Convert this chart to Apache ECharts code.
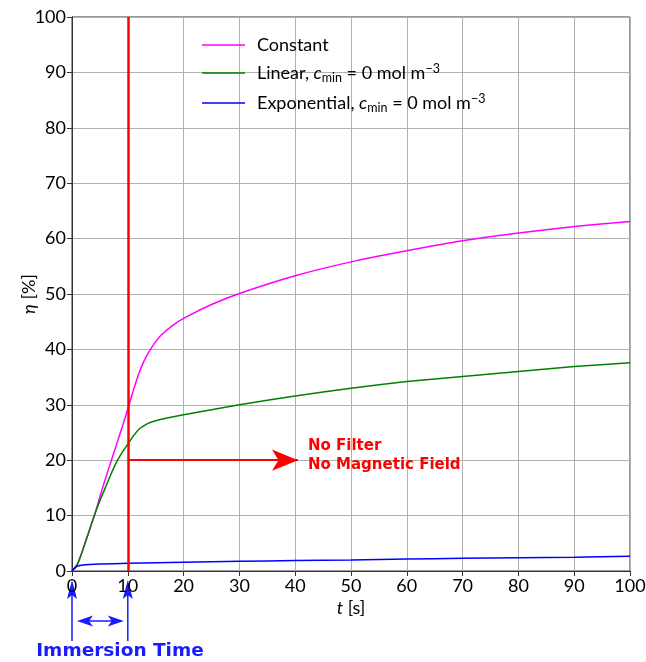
<!DOCTYPE html>
<html>
<head>
<meta charset="utf-8">
<script src="https://cdn.jsdelivr.net/npm/echarts@6/dist/echarts.min.js"></script>
<style>
  html, body { margin: 0; padding: 0; background: #fff; }
  #chart { width: 646px; height: 662px; }
</style>
</head>
<body>
<div id="chart"></div>
<script>
// time values and efficiencies
var tConst   = [0, 1, 2, 3, 4, 5, 6, 7, 8, 9, 10, 11, 12, 13, 14, 15, 16, 18, 20, 25, 30, 40, 50, 60, 70, 80, 90, 100];
var etaConst = [0, 1.3, 4, 7, 10, 13.4, 16.7, 19.8, 22.9, 26, 29.2, 32.6, 35.7, 38.1, 39.9, 41.4, 42.6, 44.3, 45.6, 48.1, 50.1, 53.3, 55.8, 57.8, 59.6, 61, 62.2, 63.1];

var tLin   = [0, 1, 2, 3, 4, 5, 6, 7, 8, 9, 10, 11, 12, 13, 14, 16, 20, 25, 30, 40, 50, 60, 70, 80, 90, 100];
var etaLin = [0, 1.3, 4, 7, 10, 12.7, 15.1, 17.5, 19.7, 21.4, 22.9, 24.4, 25.6, 26.3, 26.8, 27.4, 28.2, 29.1, 30, 31.6, 33, 34.2, 35.1, 36, 36.9, 37.6];

var tExp   = [0, 0.5, 1, 2, 5, 10, 20, 30, 40, 50, 60, 70, 80, 90, 100];
var etaExp = [0, 0.5, 0.9, 1.1, 1.25, 1.4, 1.6, 1.75, 1.9, 2.0, 2.15, 2.3, 2.4, 2.5, 2.65];

var xTicks = [0, 10, 20, 30, 40, 50, 60, 70, 80, 90, 100];
var yTicks = [0, 10, 20, 30, 40, 50, 60, 70, 80, 90, 100];

var immersionEnd = 10;     // s
var arrowEta = 20;         // %
var arrowEnd = 40.5;       // s

function pairs(t, v) { return t.map(function (x, i) { return [x, v[i]]; }); }

var font = 'Lato';
var fs = 18;
var chart = echarts.init(document.getElementById('chart'));

var option = {
  animation: false,
  grid: { left: 72, right: 16, top: 17, bottom: 91, show: true, borderColor: '#333', borderWidth: 1,
          containLabel: false, outerBoundsMode: 'none' },
  legend: {
    left: 197, top: 31, orient: 'vertical', itemGap: 8, itemWidth: 43, itemHeight: 1.5,
    icon: 'rect',
    textStyle: {
      fontFamily: font, fontSize: fs, color: '#000', padding: [0, 0, 0, 7],
      rich: {
        c: { fontFamily: font, fontSize: fs, fontStyle: 'italic', color: '#000' },
        sub: { fontFamily: font, fontSize: 12.5, color: '#000', verticalAlign: 'bottom', padding: [7, 0, 0, 0] },
        sup: { fontFamily: font, fontSize: 12.5, color: '#000', verticalAlign: 'top', padding: [0, 0, 9, 0] },
        n: { fontFamily: font, fontSize: fs, color: '#000' }
      }
    },
    formatter: function (name) {
      if (name === 'Constant') return name;
      var head = name.split(',')[0];
      return '{n|' + head + ', }{c|c}{sub|min}{n| = 0 mol m}{sup|\u22123}';
    },
    data: ['Constant', 'Linear, cmin', 'Exponential, cmin']
  },
  xAxis: {
    type: 'value', min: 0, max: 100, interval: 10,
    name: '{i|t} [s]', nameLocation: 'middle', nameGap: 28, nameMoveOverlap: false,
    nameTextStyle: { fontFamily: font, fontSize: fs, color: '#000', rich: { i: { fontStyle: 'italic', fontFamily: font, fontSize: fs, color: '#000' } } },
    axisLine: { show: true, lineStyle: { color: '#333', width: 1 } },
    axisTick: { show: true, inside: false, length: 5, lineStyle: { color: '#333' } },
    axisLabel: { fontFamily: font, fontSize: fs, color: '#000', margin: 6,
      formatter: function (v) { return xTicks.indexOf(v) >= 0 ? String(v) : ''; } },
    splitLine: { show: true, lineStyle: { color: '#b0b0b0', width: 1 } }
  },
  yAxis: {
    type: 'value', min: 0, max: 100, interval: 10,
    name: '{i|\u03b7} [%]', nameLocation: 'middle', nameGap: 34, nameRotate: 90, nameMoveOverlap: false,
    nameTextStyle: { fontFamily: font, fontSize: fs, color: '#000', rich: { i: { fontStyle: 'italic', fontFamily: font, fontSize: fs, color: '#000' } } },
    axisLine: { show: true, lineStyle: { color: '#333', width: 1 } },
    axisTick: { show: true, inside: false, length: 5, lineStyle: { color: '#333' } },
    axisLabel: { fontFamily: font, fontSize: fs, color: '#000', margin: 6,
      formatter: function (v) { return yTicks.indexOf(v) >= 0 ? String(v) : ''; } },
    splitLine: { show: true, lineStyle: { color: '#b0b0b0', width: 1 } }
  },
  series: [
    {
      name: 'Constant', type: 'line', data: pairs(tConst, etaConst), smooth: 0.2,
      symbol: 'none', lineStyle: { color: '#ff00ff', width: 1.5 }, itemStyle: { color: '#ff00ff' }, z: 3
    },
    {
      name: 'Linear, cmin', type: 'line', data: pairs(tLin, etaLin), smooth: 0.2,
      symbol: 'none', lineStyle: { color: '#008000', width: 1.5 }, itemStyle: { color: '#008000' }, z: 3,
      markLine: {
        silent: true, animation: false, label: { show: false },
        symbol: ['none', 'none'],
        lineStyle: { color: '#ff0000', width: 2.5, type: 'solid' },
        data: [{ xAxis: immersionEnd }]
      }
    },
    {
      name: 'Exponential, cmin', type: 'line', data: pairs(tExp, etaExp), smooth: 0.2,
      symbol: 'none', lineStyle: { color: '#0000ff', width: 1.5 }, itemStyle: { color: '#0000ff' }, z: 3,
      markLine: {
        silent: true, animation: false, label: { show: false },
        symbol: ['none', 'arrow'], symbolSize: [16, 26],
        lineStyle: { color: '#ff0000', width: 2, type: 'solid' },
        data: [[{ coord: [immersionEnd, arrowEta] }, { coord: [arrowEnd, arrowEta] }]]
      }
    }
  ]
};
chart.setOption(option);

// annotations placed from axis coordinates
var p0 = chart.convertToPixel({ gridIndex: 0 }, [0, arrowEta]);
var p10 = chart.convertToPixel({ gridIndex: 0 }, [immersionEnd, arrowEta]);
var pEnd = chart.convertToPixel({ gridIndex: 0 }, [arrowEnd, arrowEta]);
var x0 = chart.convertToPixel({ gridIndex: 0 }, [0, 0]);
var blue = '#1a1aff';
var ay = x0[1];

function upArrow(x) {
  return [
    { type: 'line', shape: { x1: x, y1: ay + 70, x2: x, y2: ay + 20 }, style: { stroke: blue, lineWidth: 1.5 } },
    { type: 'polygon', shape: { points: [[x, ay + 9], [x - 5, ay + 28], [x, ay + 24], [x + 5, ay + 28]] }, style: { fill: blue } }
  ];
}
var my = ay + 50;
var gx1 = p0[0] + 5, gx2 = p10[0] - 4;
var els = [].concat(upArrow(p0[0]), upArrow(p10[0]), [
  { type: 'line', shape: { x1: gx1 + 8, y1: my, x2: gx2 - 8, y2: my }, style: { stroke: blue, lineWidth: 1.5 } },
  { type: 'polygon', shape: { points: [[gx1, my], [gx1 + 16, my - 5.5], [gx1 + 12, my], [gx1 + 16, my + 5.5]] }, style: { fill: blue } },
  { type: 'polygon', shape: { points: [[gx2, my], [gx2 - 16, my - 5.5], [gx2 - 12, my], [gx2 - 16, my + 5.5]] }, style: { fill: blue } },
  { type: 'text', x: 120, y: ay + 80, style: { text: 'Immersion Time', fill: blue, font: 'bold 18.5px "DejaVu Sans"', align: 'center', verticalAlign: 'middle' } },
  { type: 'text', x: pEnd[0] + 10, y: pEnd[1] - 5, style: { text: 'No Filter\nNo Magnetic Field', fill: '#ff0000', font: 'bold 15px "DejaVu Sans"', lineHeight: 19, align: 'left', verticalAlign: 'middle' } }
]);
chart.setOption({ graphic: { elements: els } });
</script>
</body>
</html>
